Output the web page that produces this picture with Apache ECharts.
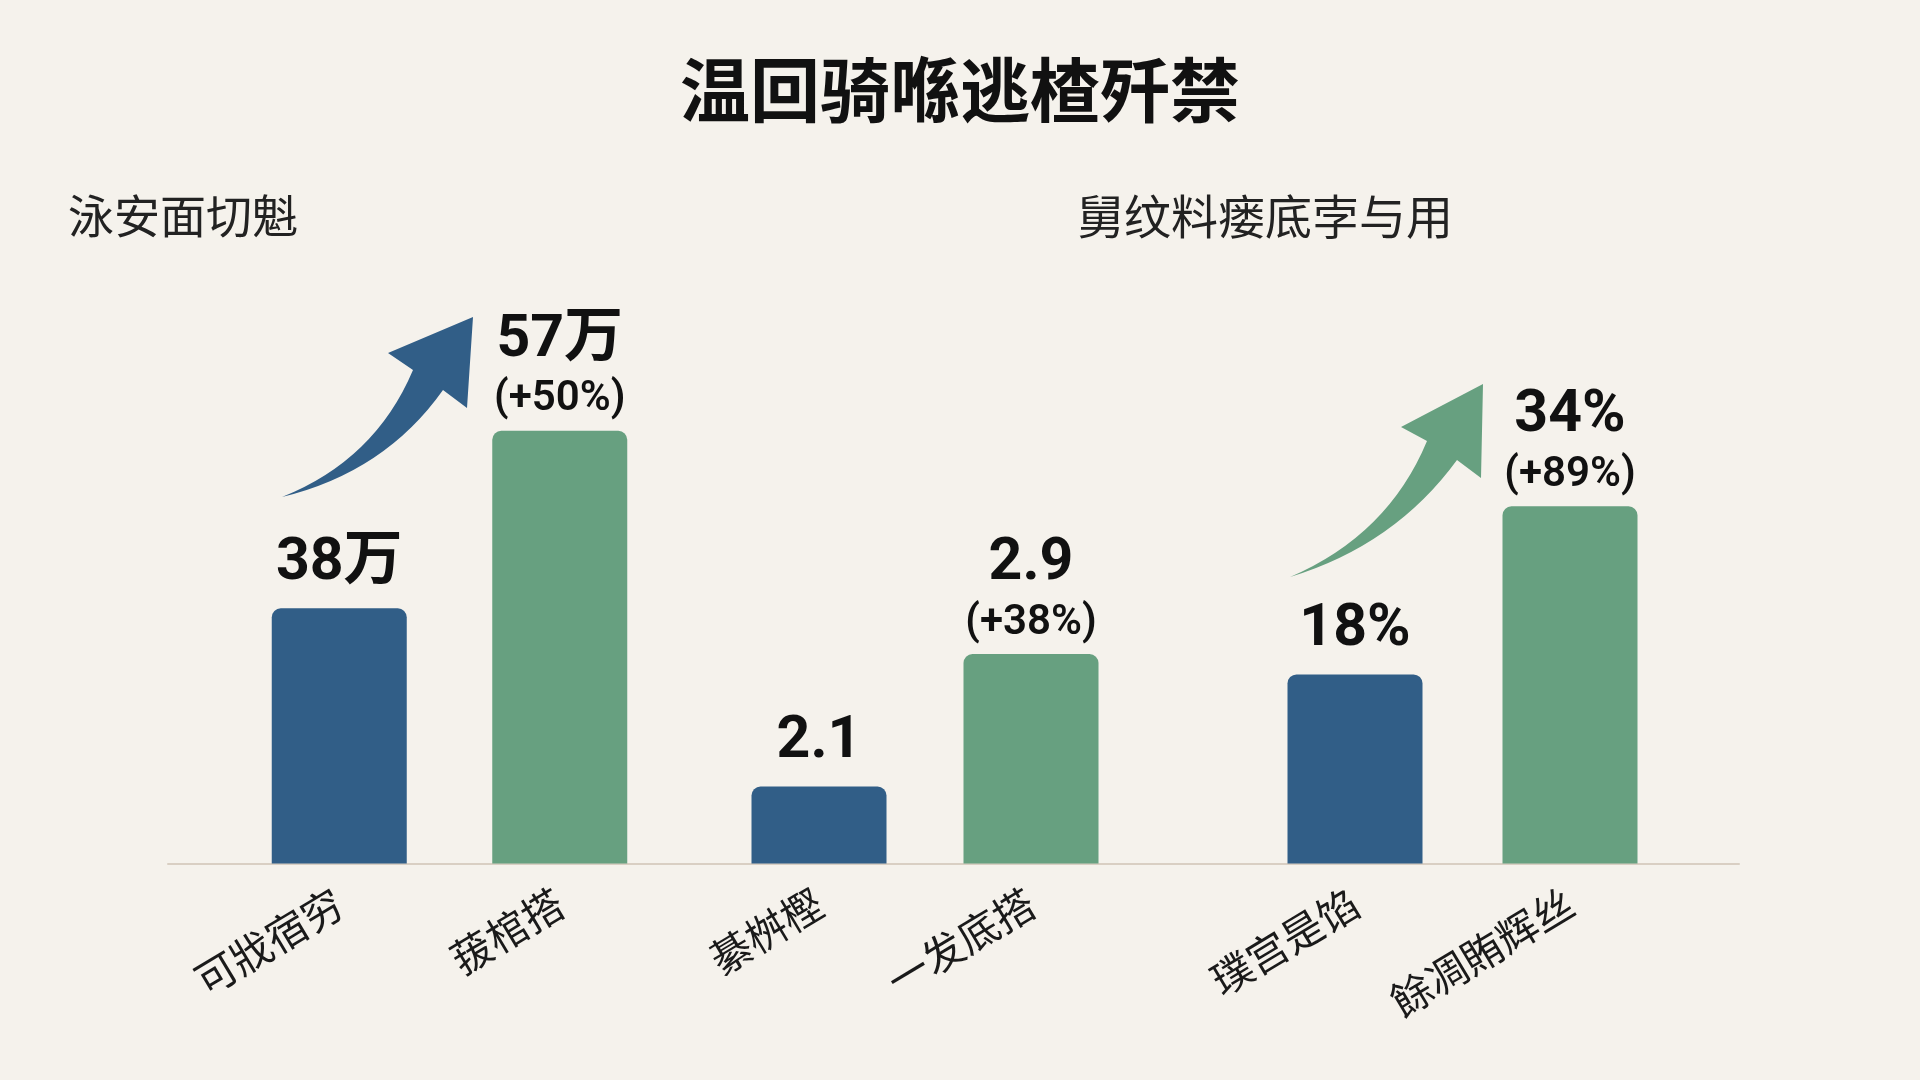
<!DOCTYPE html>
<html><head><meta charset="utf-8">
<script src="https://cdn.jsdelivr.net/npm/echarts@6/dist/echarts.min.js"></script>
<style>html,body{margin:0;padding:0;background:#f5f2ec;} #c{width:1920px;height:1080px;}</style>
</head><body><div id="c"></div>
<script>
// ---- data ----
const titleText = '温回骑喺逃楂歼禁';
const subtitleLeft = '泳安面切魁';
const subtitleRight = '舅纹料瘘底孛与用';

const reachCats = ['可戕宿穷', '菝棺搭'];
const reachVals = [38, 57];
const reachLabels = ['38万', '57万'];
const reachChange = ['', '(+50%)'];

const scoreCats = ['綦桝樫', '一发底搭'];
const scoreVals = [2.1, 2.9];
const scoreLabels = ['2.1', '2.9'];
const scoreChange = ['', '(+38%)'];

const rateCats = ['璞宫是馅', '餘凋賄辉丝'];
const rateVals = [18, 34];
const rateLabels = ['18%', '34%'];
const rateChange = ['', '(+89%)'];

// ---- styling / layout ----
const BLUE = '#315e87', GREEN = '#67a080';
const barColors = [BLUE, GREEN];
const GRID_TOP = 363.5, GRID_H = 500;
const groups = [
  {cats: reachCats, vals: reachVals, labels: reachLabels, change: reachChange, left: 229, width: 441, min: 10.7, max: 64.2},
  {cats: scoreCats, vals: scoreVals, labels: scoreLabels, change: scoreChange, left: 713, width: 424, min: 1.635, max: 4.655},
  {cats: rateCats, vals: rateVals, labels: rateLabels, change: rateChange, left: 1247.5, width: 430, min: 0, max: 47.6}
];
const numFont = 'Roboto, "Noto Sans CJK SC", sans-serif';
const cjkFont = '"Noto Sans CJK SC", sans-serif';

const grid = [], xAxis = [], yAxis = [], series = [];
groups.forEach((g, i) => {
  grid.push({left: g.left, width: g.width, top: GRID_TOP, height: GRID_H});
  xAxis.push({
    type: 'category', gridIndex: i, data: g.cats,
    axisLine: {show: false}, axisTick: {show: false},
    axisLabel: {interval: 0, rotate: 31, margin: 36, fontSize: 41, color: '#1a1a1a', fontFamily: cjkFont}
  });
  yAxis.push({type: 'value', gridIndex: i, min: g.min, max: g.max, show: false});
  series.push({
    type: 'bar', xAxisIndex: i, yAxisIndex: i, barWidth: 135, clip: true,
    data: g.vals.map((v, j) => ({
      value: v,
      itemStyle: {color: barColors[j], borderRadius: [9, 9, 0, 0]},
      label: {
        show: true, position: 'top', distance: 8,
        formatter: g.change[j] ? '{v|' + g.labels[j] + '}\n{c|' + g.change[j] + '}' : '{v|' + g.labels[j] + '}',
        rich: {
          v: {fontSize: 59, fontWeight: 'bold', lineHeight: 72, color: '#111', fontFamily: numFont, align: 'center'},
          c: {fontSize: 42, fontWeight: 600, lineHeight: 46, color: '#111', fontFamily: numFont, align: 'center'}
        }
      }
    }))
  });
});
// baseline spanning the whole chart
grid.push({left: 168, width: 1571, top: GRID_TOP, height: GRID_H});
xAxis.push({type: 'value', gridIndex: 3, axisLine: {show: true, onZero: false, lineStyle: {color: '#d9cfc3', width: 2}},
  axisTick: {show: false}, axisLabel: {show: false}, splitLine: {show: false}});
yAxis.push({type: 'value', gridIndex: 3, show: false});

// decorative growth arrows
const arrowPaths = [
  {d: 'M282 497 Q375 460 413 370 L388 353 L473 317 L467 408 L443 390 Q385 472 282 497 Z', color: BLUE},
  {d: 'M1290 577 Q1388 535 1427 441 L1401 427 L1483 384 L1481 478 L1457 460 Q1395 545 1290 577 Z', color: GREEN}
];
series.push({
  type: 'custom', coordinateSystem: 'none', silent: true, z: 10, data: [0],
  renderItem: function () {
    return {type: 'group', children: arrowPaths.map(a => ({type: 'path', shape: {pathData: a.d}, style: {fill: a.color}}))};
  }
});

const chart = echarts.init(document.getElementById('c'), null, {renderer: 'canvas'});
chart.setOption({
  backgroundColor: '#f5f2ec',
  animation: false,
  title: [
    {text: titleText, left: 'center', top: 50, textStyle: {fontSize: 70, fontWeight: 'bold', color: '#111', fontFamily: cjkFont}},
    {text: subtitleLeft, left: 63, top: 188, textStyle: {fontSize: 46, fontWeight: 'normal', color: '#222', fontFamily: cjkFont}},
    {text: subtitleRight, left: 1072, top: 188, textStyle: {fontSize: 47, fontWeight: 'normal', color: '#222', fontFamily: cjkFont}}
  ],
  grid, xAxis, yAxis, series
});
</script></body></html>
